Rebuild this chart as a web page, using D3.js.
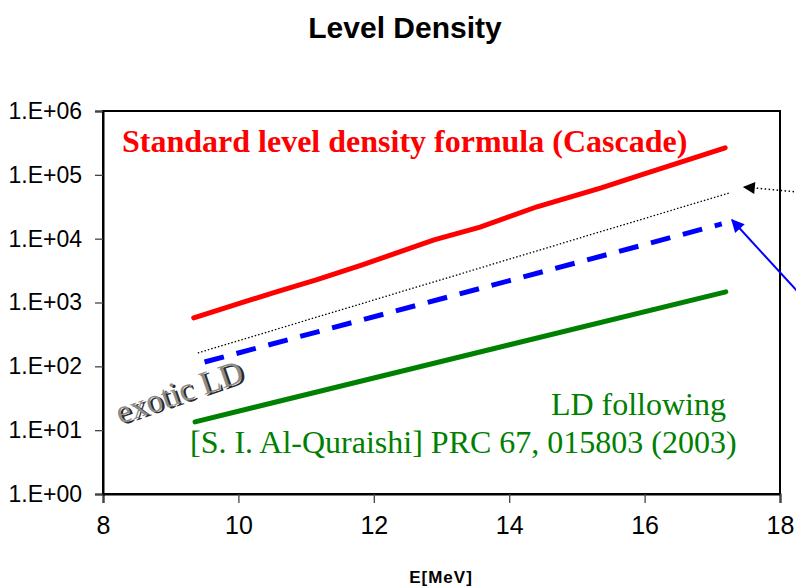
<!DOCTYPE html>
<html>
<head>
<meta charset="utf-8">
<script src="https://cdn.jsdelivr.net/npm/d3@7"></script>
<style>
  body { margin: 0; background: #fff; }
  svg { display: block; }
</style>
</head>
<body>
<svg id="chart" width="796" height="587"></svg>
<script>
// data (E in MeV, level density)
var eStd = [9.34, 10.56, 11.15, 11.83, 12.89, 13.57, 14.41, 15.36, 15.95, 17.19];
var ldStd = [575, 1470, 2260, 3890, 9550, 15200, 31600, 62600, 100000, 265000];

var eExo = [9.4, 17.25];
var ldExo = [162, 52000];

var eFit = [9.5, 17.14];
var ldFit = [117, 17000];

var eQur = [9.36, 17.2];
var ldQur = [13.5, 1470];

var xTicks = [8, 10, 12, 14, 16, 18];
var yTicks = [1, 10, 100, 1000, 10000, 100000, 1000000];
var yTickLabels = ["1.E+00", "1.E+01", "1.E+02", "1.E+03", "1.E+04", "1.E+05", "1.E+06"];

var svg = d3.select("#chart");
var margin = { top: 111, right: 16, bottom: 93, left: 103 },
  width = 796 - margin.left - margin.right,
  height = 587 - margin.top - margin.bottom;

var x = d3.scaleLinear().domain([8, 18]).range([0, width]);
var y = d3.scaleLog().domain([1, 1e6]).range([height, 0]);

var sans = "Liberation Sans, Arial, sans-serif";
var serif = "Liberation Serif, Times New Roman, serif";

// titre
svg.append("text")
  .attr("x", 405).attr("y", 38)
  .attr("text-anchor", "middle")
  .style("font-family", sans)
  .style("font-weight", "bold")
  .style("font-size", "30px")
  .text("Level Density");

var g = svg.append("g")
  .attr("transform", "translate(" + margin.left + "," + margin.top + ")");

// cadre
g.append("rect")
  .attr("x", 0).attr("y", 0)
  .attr("width", width).attr("height", height)
  .attr("fill", "none")
  .attr("stroke", "#000")
  .attr("stroke-width", 2);

// axes
var xAxis = g.append("g")
  .attr("transform", "translate(0," + height + ")")
  .call(d3.axisBottom(x).tickValues(xTicks).tickSize(9).tickPadding(13).tickFormat(d3.format("d")));
var yAxis = g.append("g")
  .call(d3.axisLeft(y).tickValues(yTicks).tickSize(8).tickPadding(13)
    .tickFormat(function (d, i) { return yTickLabels[i]; }));

[xAxis, yAxis].forEach(function (a) {
  a.select(".domain").attr("stroke-width", 2);
  a.selectAll(".tick line").attr("stroke-width", 1.3).attr("stroke", "#444");
  a.selectAll("text")
    .style("font-family", sans)
    .attr("fill", "#000");
});
xAxis.selectAll("text").style("font-size", "25px");
yAxis.selectAll("text").style("font-size", "23px");

svg.append("text")
  .attr("x", 441).attr("y", 583)
  .attr("text-anchor", "middle")
  .style("font-family", sans)
  .style("font-weight", "bold")
  .style("font-size", "17px")
  .style("letter-spacing", "1px")
  .text("E[MeV]");

var line = d3.line()
  .x(function (d) { return x(d[0]); })
  .y(function (d) { return y(d[1]); });

function pts(es, vs) { return es.map(function (e, i) { return [e, vs[i]]; }); }

g.append("path").datum(pts(eStd, ldStd))
  .attr("d", line).attr("fill", "none")
  .attr("stroke", "#ff0000").attr("stroke-width", 5).attr("stroke-linecap", "round");

g.append("path").datum(pts(eExo, ldExo))
  .attr("d", line).attr("fill", "none")
  .attr("stroke", "#000").attr("stroke-width", 1.3).attr("stroke-dasharray", "1.5,2");

g.append("path").datum(pts(eFit, ldFit))
  .attr("d", line).attr("fill", "none")
  .attr("stroke", "#0000ff").attr("stroke-width", 5).attr("stroke-dasharray", "20,13");

g.append("path").datum(pts(eQur, ldQur))
  .attr("d", line).attr("fill", "none")
  .attr("stroke", "#008000").attr("stroke-width", 5).attr("stroke-linecap", "round");

// fleches
var defs = svg.append("defs");
defs.append("marker").attr("id", "arrBlack")
  .attr("viewBox", "0 0 10 10").attr("refX", 9).attr("refY", 5)
  .attr("markerWidth", 14).attr("markerHeight", 12).attr("markerUnits", "userSpaceOnUse")
  .attr("orient", "auto")
  .append("path").attr("d", "M0,0L10,5L0,10Z").attr("fill", "#000");
defs.append("marker").attr("id", "arrBlue")
  .attr("viewBox", "0 0 10 10").attr("refX", 9).attr("refY", 5)
  .attr("markerWidth", 16).attr("markerHeight", 13).attr("markerUnits", "userSpaceOnUse")
  .attr("orient", "auto")
  .append("path").attr("d", "M0,0L10,5L0,10Z").attr("fill", "#0000ff");

svg.append("line")
  .attr("x1", 798).attr("y1", 192).attr("x2", 744).attr("y2", 187)
  .attr("stroke", "#000").attr("stroke-width", 1.5).attr("stroke-dasharray", "1.5,2.5")
  .attr("marker-end", "url(#arrBlack)");
svg.append("line")
  .attr("x1", 798).attr("y1", 292).attr("x2", 732).attr("y2", 220)
  .attr("stroke", "#0000ff").attr("stroke-width", 2)
  .attr("marker-end", "url(#arrBlue)");

// etiquettes
svg.append("text")
  .attr("x", 122).attr("y", 152)
  .style("font-family", serif)
  .style("font-weight", "bold")
  .style("font-size", "32px")
  .attr("fill", "#ff0000")
  .text("Standard level density formula (Cascade)");

svg.append("text")
  .attr("x", 726).attr("y", 415)
  .attr("text-anchor", "end")
  .style("font-family", serif)
  .style("font-size", "32px")
  .attr("fill", "#008000")
  .text("LD following");

svg.append("text")
  .attr("x", 190).attr("y", 453)
  .style("font-family", serif)
  .style("font-size", "32px")
  .attr("fill", "#008000")
  .text("[S. I. Al-Quraishi] PRC 67, 015803 (2003)");

var exo = svg.append("g").attr("transform", "translate(120,424) rotate(-19)");
exo.append("text")
  .attr("x", 2).attr("y", 2)
  .style("font-family", serif)
  .style("font-size", "33px")
  .attr("fill", "#2a2a2a")
  .text("exotic LD");
exo.append("text")
  .attr("x", 0).attr("y", 0)
  .style("font-family", serif)
  .style("font-size", "33px")
  .attr("fill", "#8c8c8c")
  .text("exotic LD");
</script>
</body>
</html>
